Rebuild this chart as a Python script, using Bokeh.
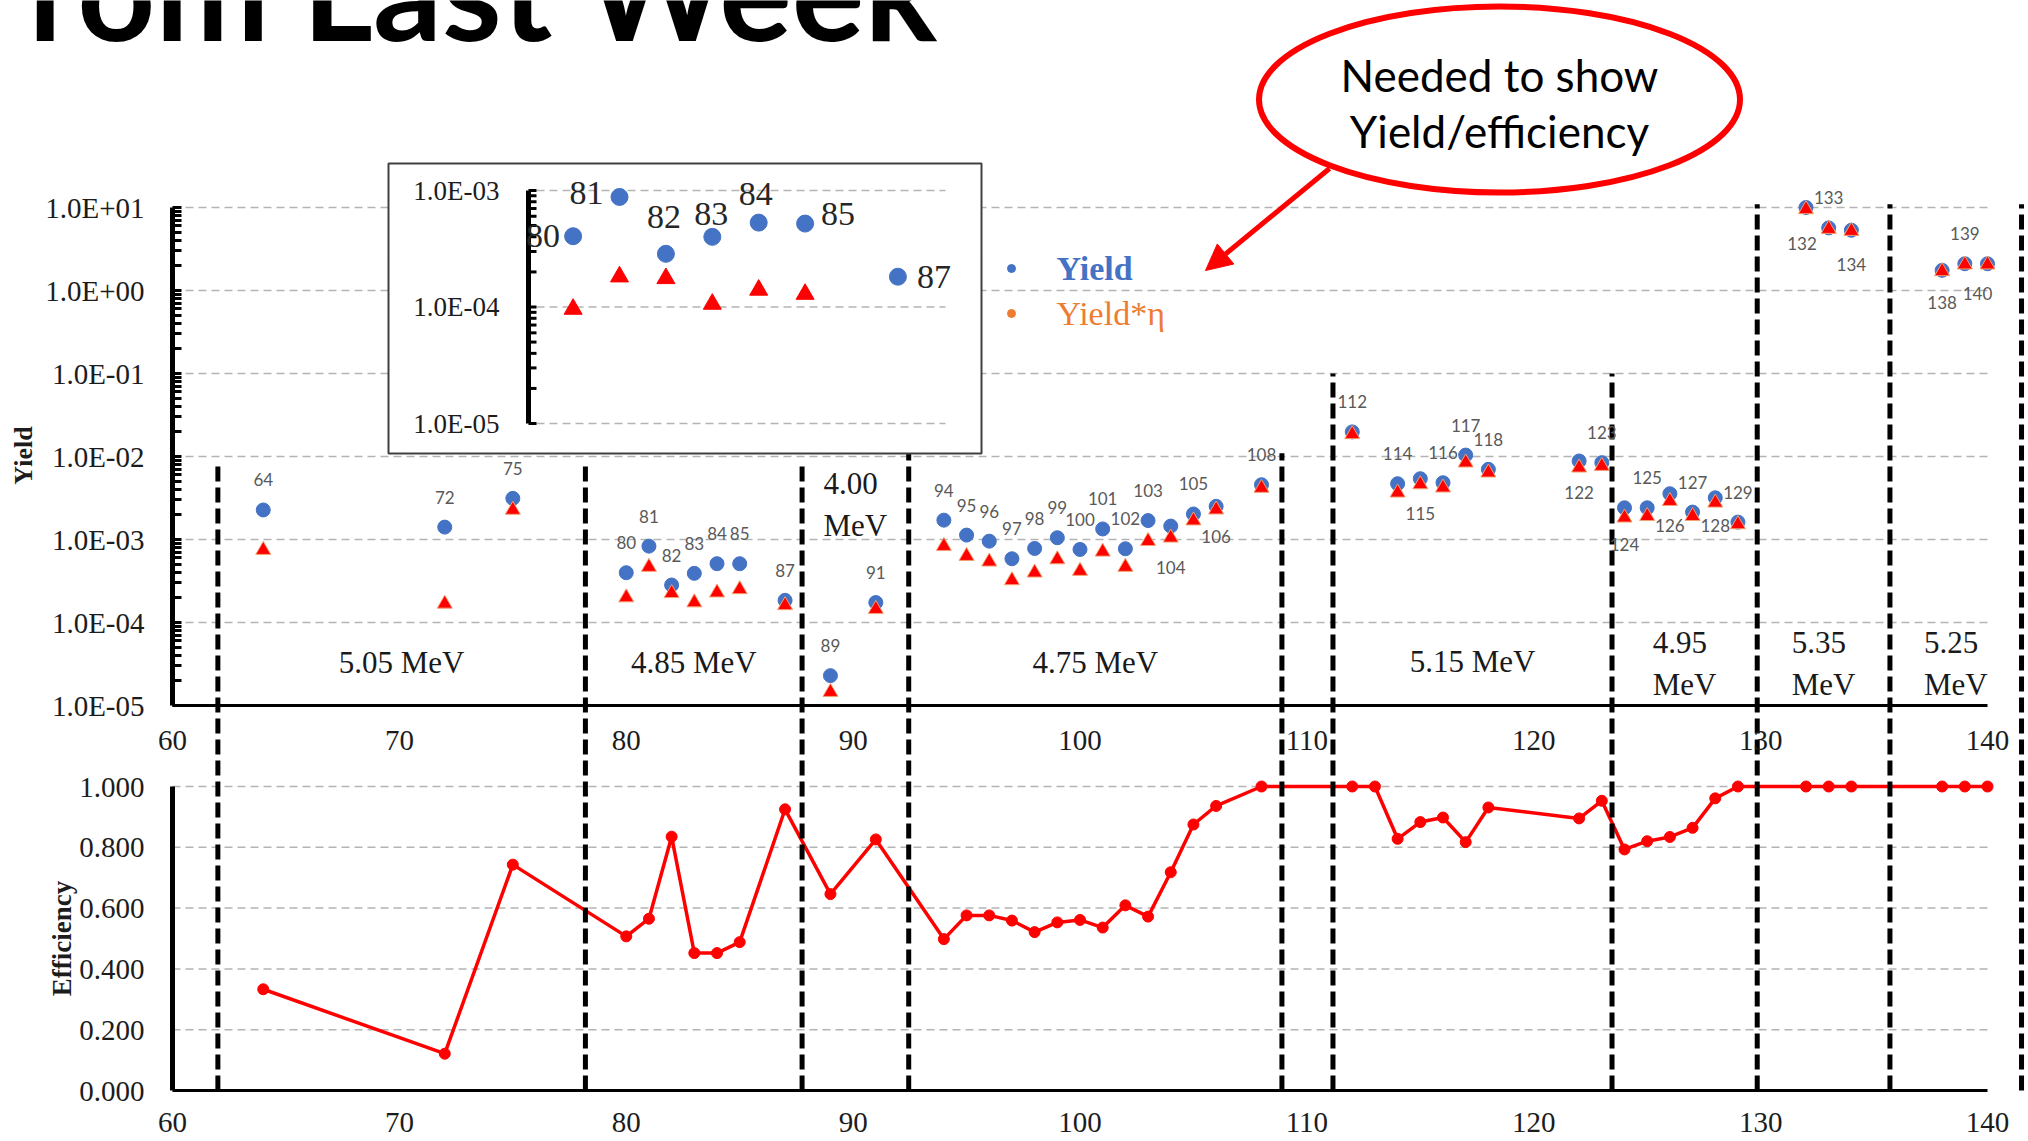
import math
from bokeh.plotting import figure
from bokeh.models import (Range1d, LogScale, FixedTicker, LinearAxis, ColumnDataSource,
                          LabelSet, Label, Arrow, NormalHead)
from bokeh.core.properties import value
from bokeh.embed import file_html
from bokeh.resources import INLINE

# ---------------- data ----------------
yield_x = [64, 72, 75, 80, 81, 82, 83, 84, 85, 87, 89, 91,
           94, 95, 96, 97, 98, 99, 100, 101, 102, 103, 104, 105, 106, 108,
           112, 114, 115, 116, 117, 118, 122, 123,
           124, 125, 126, 127, 128, 129, 132, 133, 134, 138, 139, 140]
yield_val = [2.27e-3, 1.41e-3, 3.13e-3, 3.98e-4, 8.32e-4, 2.83e-4, 3.91e-4, 5.11e-4, 5.11e-4, 1.85e-4, 2.29e-5, 1.74e-4,
             1.71e-3, 1.13e-3, 9.55e-4, 5.86e-4, 7.80e-4, 1.05e-3, 7.59e-4, 1.34e-3, 7.73e-4, 1.69e-3, 1.45e-3, 2.03e-3, 2.51e-3, 4.57e-3,
             1.98e-2, 4.70e-3, 5.40e-3, 4.83e-3, 1.04e-2, 7.00e-3, 8.83e-3, 8.43e-3,
             2.41e-3, 2.41e-3, 3.56e-3, 2.14e-3, 3.18e-3, 1.62e-3, 10.0, 5.68, 5.32, 1.75, 2.10, 2.10]
yield_eta = [7.46e-4, 1.68e-4, 2.27e-3, 2.00e-4, 4.66e-4, 2.25e-4, 1.74e-4, 2.29e-4, 2.51e-4, 1.61e-4, 1.45e-5, 1.45e-4,
             8.32e-4, 6.31e-4, 5.40e-4, 3.22e-4, 3.98e-4, 5.75e-4, 4.17e-4, 7.11e-4, 4.66e-4, 9.55e-4, 1.05e-3, 1.69e-3, 2.29e-3, 4.17e-3,
             1.85e-2, 3.66e-3, 4.61e-3, 4.21e-3, 8.43e-3, 6.38e-3, 7.33e-3, 7.67e-3,
             1.83e-3, 1.91e-3, 2.90e-3, 1.91e-3, 2.77e-3, 1.52e-3, 9.5, 5.5, 5.2, 1.7, 2.05, 2.05]

eff_x = [64, 72, 75, 80, 81, 82, 83, 84, 85, 87, 89, 91,
         94, 95, 96, 97, 98, 99, 100, 101, 102, 103, 104, 105, 106, 108,
         112, 113, 114, 115, 116, 117, 118, 122, 123,
         124, 125, 126, 127, 128, 129, 132, 133, 134, 138, 139, 140]
eff_val = [0.333, 0.121, 0.743, 0.507, 0.565, 0.835, 0.452, 0.452, 0.488, 0.925, 0.646, 0.826,
           0.498, 0.576, 0.576, 0.559, 0.521, 0.553, 0.561, 0.536, 0.609, 0.572, 0.718, 0.875, 0.936, 1.0,
           1.0, 1.0, 0.828, 0.883, 0.898, 0.817, 0.931, 0.895, 0.953,
           0.793, 0.820, 0.834, 0.864, 0.961, 1.0, 1.0, 1.0, 1.0, 1.0, 1.0, 1.0]

inset_x = [80, 81, 82, 83, 84, 85, 87]
inset_yield = [4.05e-4, 8.8e-4, 2.86e-4, 4.0e-4, 5.3e-4, 5.2e-4, 1.82e-4]
inset_eta_x = [80, 81, 82, 83, 84, 85]
inset_eta = [9.6e-5, 1.82e-4, 1.76e-4, 1.06e-4, 1.40e-4, 1.29e-4]

region_bounds = [62.0, 78.2, 87.75, 92.45, 108.9, 111.15, 123.45, 129.85, 135.7, 141.5]
region_energy = ["5.05 MeV", "4.85 MeV", "4.00\nMeV", "4.75 MeV", "", "5.15 MeV",
                 "4.95\nMeV", "5.35\nMeV", "5.25\nMeV"]

yield_decades = [1e-5, 1e-4, 1e-3, 1e-2, 1e-1, 1e0, 1e1]
yield_tick_labels = ["1.0E-05", "1.0E-04", "1.0E-03", "1.0E-02", "1.0E-01", "1.0E+00", "1.0E+01"]
eff_ticks = [0.0, 0.2, 0.4, 0.6, 0.8, 1.0]
eff_tick_labels = ["0.000", "0.200", "0.400", "0.600", "0.800", "1.000"]
x_ticks = [60, 70, 80, 90, 100, 110, 120, 130, 140]
inset_decades = [1e-5, 1e-4, 1e-3]
inset_tick_labels = ["1.0E-05", "1.0E-04", "1.0E-03"]

# ---------------- layout (page pixels) ----------------
W, H = 2026, 1138
X60, X140 = 172.0, 1987.0
FB = 1090.0                      # efficiency 0 / bottom axis line
Y_E1, Y_E5 = 207.0, 705.0        # yield 1e1 and 1e-5
Y_EFF1 = 786.0                   # efficiency 1.0
ppx = (X140 - X60) / (x_ticks[-1] - x_ticks[0])
ppd = (Y_E5 - Y_E1) / 6.0


def xdata(px):
    return x_ticks[0] + (px - X60) / ppx


def effdata(py):
    return (FB - py) / (FB - Y_EFF1)


def logdata(py):
    return -5 + (Y_E5 - py) / ppd


# inset geometry
IX80, IPPU = 572.6, 46.4
IY3, IPPD = 190.0, 116.5


def ix(px):
    return 80 + (px - IX80) / IPPU


def ilog(py):
    return -3 + (IY3 - py) / IPPD


eff_lo, eff_hi = effdata(H), effdata(0)
log_lo, log_hi = logdata(H), logdata(0)


def to_main(v):
    return eff_lo + (math.log10(v) - log_lo) / (log_hi - log_lo) * (eff_hi - eff_lo)


SERIF = "Liberation Serif"
SANS = "Lato"

p = figure(frame_width=W, frame_height=H,
           x_range=Range1d(xdata(0), xdata(W)), y_range=Range1d(eff_lo, eff_hi),
           x_axis_type=None, y_axis_type=None,
           min_border_left=0, min_border_right=0, min_border_top=0, min_border_bottom=0,
           output_backend="svg", toolbar_location=None)
p.outline_line_color = None
p.background_fill_color = "white"
p.border_fill_color = "white"

p.extra_y_ranges = {"yl": Range1d(10 ** log_lo, 10 ** log_hi),
                    "py": Range1d(H, 0),
                    "iy": Range1d(10 ** ilog(H), 10 ** ilog(0))}
p.extra_y_scales = {"yl": LogScale(), "iy": LogScale()}
p.extra_x_ranges = {"px": Range1d(0, W), "ix": Range1d(ix(0), ix(W))}

# ---------------- gridlines ----------------
GRID = dict(line_color="#b4b4b4", line_width=1.5, line_dash="8 5")
p.segment(x0=[x_ticks[0]] * 5, y0=eff_ticks[1:], x1=[x_ticks[-1]] * 5, y1=eff_ticks[1:], **GRID)
p.segment(x0=[x_ticks[0]] * 6, y0=yield_decades[1:], x1=[x_ticks[-1]] * 6, y1=yield_decades[1:],
          y_range_name="yl", **GRID)

# ---------------- left axis (efficiency + yield decades), drawn at x = 60 ----------------
major = eff_ticks + [to_main(v) for v in yield_decades]
overrides = {}
for t, s in zip(eff_ticks, eff_tick_labels):
    overrides[t] = s
for v, s in zip(yield_decades, yield_tick_labels):
    overrides[to_main(v)] = s
minor = []
for e in range(-5, 1):
    for k in range(1, 10):
        minor.append(to_main(k * 10 ** e))
minor.append(to_main(yield_decades[-1]))
ly = LinearAxis(ticker=FixedTicker(ticks=major, minor_ticks=minor), major_label_overrides=overrides,
                fixed_location=x_ticks[0],
                axis_line_color=None, major_tick_line_color=None,
                minor_tick_in=9, minor_tick_out=0, minor_tick_line_width=3, minor_tick_line_color="black",
                major_label_text_font=SERIF, major_label_text_font_size="29px",
                major_label_text_color="#1c1c1c", major_label_standoff=22)
p.add_layout(ly, "left")

bx = LinearAxis(ticker=FixedTicker(ticks=x_ticks), bounds=(x_ticks[0], x_ticks[-1]),
                fixed_location=eff_ticks[0],
                axis_line_width=3, axis_line_color="black",
                major_tick_line_color=None, minor_tick_line_color=None,
                major_label_text_font=SERIF, major_label_text_font_size="29px",
                major_label_text_color="#1c1c1c", major_label_standoff=16)
p.add_layout(bx, "below")

# axis lines
p.segment(x0=[x_ticks[0]], y0=[yield_decades[0]], x1=[x_ticks[0]], y1=[yield_decades[-1]],
          y_range_name="yl", line_width=5, line_color="black")
p.segment(x0=[x_ticks[0]], y0=[eff_ticks[0]], x1=[x_ticks[0]], y1=[eff_ticks[-1]],
          line_width=5, line_color="black")
p.segment(x0=[x_ticks[0]], y0=[yield_decades[0]], x1=[x_ticks[-1]], y1=[yield_decades[0]],
          y_range_name="yl", line_width=3, line_color="black")

# top x tick labels
p.add_layout(LabelSet(source=ColumnDataSource(dict(x=x_ticks, y=[740.0] * len(x_ticks),
                                                   t=[str(v) for v in x_ticks])),
                      x="x", y="y", text="t", y_range_name="py",
                      text_font=value(SERIF), text_font_size="29px", text_color="#1c1c1c",
                      text_align="center", text_baseline="middle"))

# ---------------- efficiency ----------------
p.line(eff_x, eff_val, line_color="#ff0000", line_width=3.5)
p.scatter(eff_x, eff_val, size=11, fill_color="#ff0000", line_color="#ff0000")

# ---------------- yield ----------------
p.scatter(yield_x, yield_val, y_range_name="yl", size=14, fill_color="#4472c4", line_color="#4472c4")
p.scatter(yield_x, yield_eta, y_range_name="yl", marker="triangle", size=15,
          fill_color="#ff0000", line_color="#f4a070", line_width=1)

below = {104: 41, 106: 30, 115: 35, 122: 32, 124: 37, 126: 32, 128: 28,
         132: 36, 134: 34, 138: 32, 140: 30}
shift = {132: -4, 140: -10}
lab_dy = [-(below.get(x, -30)) for x in yield_x]
lab_dx = [shift.get(x, 0) for x in yield_x]
p.add_layout(LabelSet(source=ColumnDataSource(dict(x=yield_x, y=yield_val, t=[str(v) for v in yield_x],
                                                   dx=lab_dx, dy=lab_dy)),
                      x="x", y="y", text="t", x_offset="dx", y_offset="dy", y_range_name="yl",
                      text_font=value(SANS), text_font_size="17px", text_color="#595959",
                      text_align="center", text_baseline="middle"))

# dividers (from efficiency 0 up into the yield panel)
div_top_log = [-2.1, -2.1, -2.1, -1.0, -1.96, -1.0, -1.0, 1.04, 1.04, 1.04]
p.segment(x0=region_bounds, y0=[eff_ticks[0]] * len(region_bounds), x1=region_bounds,
          y1=[to_main(10 ** t) for t in div_top_log],
          line_width=5, line_color="black", line_dash="15 6")

# energy labels
mid = [(a + b) / 2 for a, b in zip(region_bounds[:-1], region_bounds[1:])]
elab_y = [662, 662, 504, 662, 662, 661, 663, 663, 663]
p.add_layout(LabelSet(source=ColumnDataSource(dict(x=mid, y=elab_y, t=region_energy)),
                      x="x", y="y", text="t", y_range_name="py",
                      text_font=value(SERIF), text_font_size="31px", text_color="#1a1a1a",
                      text_align="center", text_baseline="middle"))

# ---------------- inset ----------------
p.quad(left=[388], right=[981], top=[163], bottom=[453], x_range_name="px", y_range_name="py",
       fill_color="white", line_color="#404040", line_width=2)
ax_i = ix(528)
p.segment(x0=[ix(536)] * 3, y0=inset_decades, x1=[ix(945)] * 3, y1=inset_decades,
          x_range_name="ix", y_range_name="iy", line_color="#b4b4b4", line_width=1.5, line_dash="8 5")
p.segment(x0=[ax_i], y0=[inset_decades[0]], x1=[ax_i], y1=[inset_decades[-1]],
          x_range_name="ix", y_range_name="iy", line_color="black", line_width=5)
itk = [k * 10 ** e for e in (-5, -4) for k in range(1, 10)] + [inset_decades[-1]]
p.segment(x0=[ax_i] * len(itk), y0=itk, x1=[ix(536)] * len(itk), y1=itk,
          x_range_name="ix", y_range_name="iy", line_color="black", line_width=3)
p.add_layout(LabelSet(source=ColumnDataSource(dict(x=[ax_i] * 3, y=inset_decades, t=inset_tick_labels)),
                      x="x", y="y", text="t", x_offset=-29, x_range_name="ix", y_range_name="iy",
                      text_font=value(SERIF), text_font_size="27px", text_color="#1c1c1c",
                      text_align="right", text_baseline="middle"))
p.scatter(inset_x, inset_yield, x_range_name="ix", y_range_name="iy", size=17,
          fill_color="#4472c4", line_color="#4472c4")
p.scatter(inset_eta_x, inset_eta, x_range_name="ix", y_range_name="iy", marker="triangle", size=18,
          fill_color="#ff0000", line_color="#ff0000")
ins_dx = [-30, -33, -2, -1, -3, 33, 36]
ins_dy = [0, 4, 37, 23, 29, 10, 0]
p.add_layout(LabelSet(source=ColumnDataSource(dict(x=inset_x, y=inset_yield, t=[str(v) for v in inset_x],
                                                   dx=ins_dx, dy=ins_dy)),
                      x="x", y="y", text="t", x_offset="dx", y_offset="dy",
                      x_range_name="ix", y_range_name="iy",
                      text_font=value(SERIF), text_font_size="34px", text_color="#262626",
                      text_align="center", text_baseline="middle"))

# ---------------- legend ----------------
p.scatter([1011, 1011], [268, 313], x_range_name="px", y_range_name="py", size=8,
          fill_color=["#4472c4", "#ed7d31"], line_color=["#4472c4", "#ed7d31"])
p.add_layout(Label(x=1056, y=268, text="Yield", x_range_name="px", y_range_name="py",
                   text_font=SERIF, text_font_size="34px", text_font_style="bold",
                   text_color="#4472c4", text_baseline="middle"))
p.add_layout(Label(x=1056, y=313, text="Yield*η", x_range_name="px", y_range_name="py",
                   text_font=SERIF, text_font_size="34px",
                   text_color="#ed7d31", text_baseline="middle"))

# ---------------- callout ----------------
p.ellipse(x=[1499], y=[99], width=[481], height=[186], width_units="screen", height_units="screen",
          x_range_name="px", y_range_name="py", fill_color=None, line_color="#ff0000", line_width=6)
p.add_layout(Arrow(x_start=1329, y_start=168, x_end=1205, y_end=270,
                   x_range_name="px", y_range_name="py", line_color="#ff0000", line_width=5,
                   end=NormalHead(size=26, fill_color="#ff0000", line_color="#ff0000")))
p.add_layout(Label(x=1499, y=74, text="Needed to show", x_range_name="px", y_range_name="py",
                   text_font=SANS, text_font_size="44px", text_color="black",
                   text_align="center", text_baseline="middle"))
p.add_layout(Label(x=1499, y=130, text="Yield/efficiency", x_range_name="px", y_range_name="py",
                   text_font=SANS, text_font_size="44px", text_color="black",
                   text_align="center", text_baseline="middle"))

# ---------------- title & axis titles ----------------
p.add_layout(Label(x=28, y=-12, text="rom Last Week", x_range_name="px", y_range_name="py",
                   text_font=SANS, text_font_size="136px", text_font_style="bold",
                   text_color="black", text_baseline="middle"))
p.add_layout(Label(x=23, y=455, text="Yield", angle=math.pi / 2, x_range_name="px", y_range_name="py",
                   text_font=SERIF, text_font_size="26px", text_font_style="bold",
                   text_color="#1c1c1c", text_align="center", text_baseline="middle"))
p.add_layout(Label(x=61, y=938, text="Efficiency", angle=math.pi / 2, x_range_name="px", y_range_name="py",
                   text_font=SERIF, text_font_size="27px", text_font_style="bold",
                   text_color="#1c1c1c", text_align="center", text_baseline="middle"))

open("out.html", "w").write(file_html(p, INLINE))
